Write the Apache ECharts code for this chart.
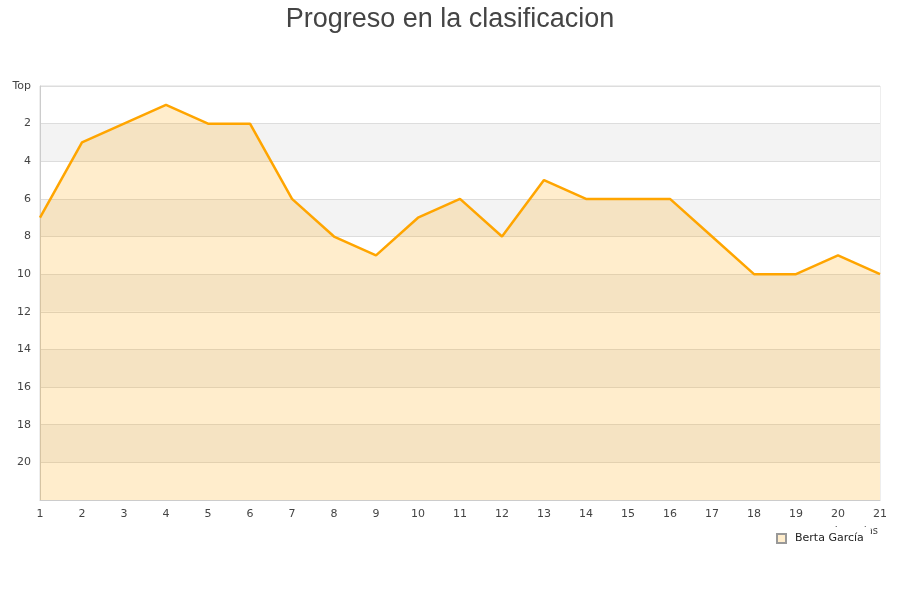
<!DOCTYPE html>
<html>
<head>
<meta charset="utf-8">
<script src="https://cdn.jsdelivr.net/npm/echarts@6/dist/echarts.min.js"></script>
<style>html,body{margin:0;padding:0;background:#fff}#c{width:900px;height:600px}</style>
</head>
<body>
<div id="c"></div>
<script>
var titleText = 'Progreso en la clasificacion';
var seriesName = 'Berta García';
var jornadas = [1,2,3,4,5,6,7,8,9,10,11,12,13,14,15,16,17,18,19,20,21];
var posiciones = [7,3,2,1,2,2,6,8,9,7,6,8,5,6,6,6,8,10,10,9,10];
var yMin = 0, yMax = 22, yStep = 2;
var topLabel = 'Top';

var chart = echarts.init(document.getElementById('c'));
chart.setOption({
  animation: false,
  title: {text: titleText, left: 'center', top: 1,
    textStyle: {fontSize: 27, fontWeight: 'normal', color: '#444', fontFamily: 'Liberation Sans'}},
  grid: {left: 40, right: 20, top: 86, bottom: 100, containLabel: false, outerBoundsMode: 'none',
    show: true, borderColor: '#ddd', borderWidth: 1, backgroundColor: 'transparent'},
  legend: {data: [{name: seriesName, icon: 'rect'}], left: 771, top: 527, itemWidth: 9, itemHeight: 9,
    backgroundColor: '#fff', padding: [6, 7, 6, 5], itemGap: 8,
    textStyle: {fontSize: 11, color: '#222', fontFamily: 'DejaVu Sans', padding: [0, 0, 0, 4]}},
  xAxis: {type: 'category', data: jornadas, boundaryGap: false,
    name: 'Jornadas', nameLocation: 'end', nameGap: 0,
    nameTextStyle: {align: 'right', verticalAlign: 'top', padding: [26, 2, 0, 0], fontSize: 10, color: '#444', fontFamily: 'DejaVu Sans'},
    axisLine: {onZero: false, lineStyle: {color: '#ccc'}}, axisTick: {show: false},
    axisLabel: {fontSize: 11, color: '#444', margin: 9, fontFamily: 'DejaVu Sans', interval: 0},
    splitLine: {show: false}},
  yAxis: {type: 'value', inverse: true, min: yMin, max: yMax, interval: yStep,
    name: 'Posicion', nameLocation: 'middle', nameGap: 29,
    nameTextStyle: {fontSize: 11, color: '#444', fontFamily: 'DejaVu Sans'},
    axisLine: {show: true, lineStyle: {color: '#ccc'}}, axisTick: {show: false},
    axisLabel: {fontSize: 11, color: '#444', margin: 9, fontFamily: 'DejaVu Sans',
      formatter: function (v) { if (v === yMin) return topLabel; if (v === yMax) return ''; return String(v); }},
    splitLine: {show: true, lineStyle: {color: '#ddd'}},
    splitArea: {show: true, areaStyle: {color: ['#ffffff', '#f3f3f3']}}},
  series: [{name: seriesName, type: 'line', data: posiciones, showSymbol: false, symbol: 'none',
    lineStyle: {color: '#ffa500', width: 2.5}, itemStyle: {color: '#ffedcc', borderColor: '#999', borderWidth: 1},
    areaStyle: {color: 'rgba(255,165,0,0.2)', opacity: 1, origin: 'end'}}]
});
</script>
</body>
</html>
